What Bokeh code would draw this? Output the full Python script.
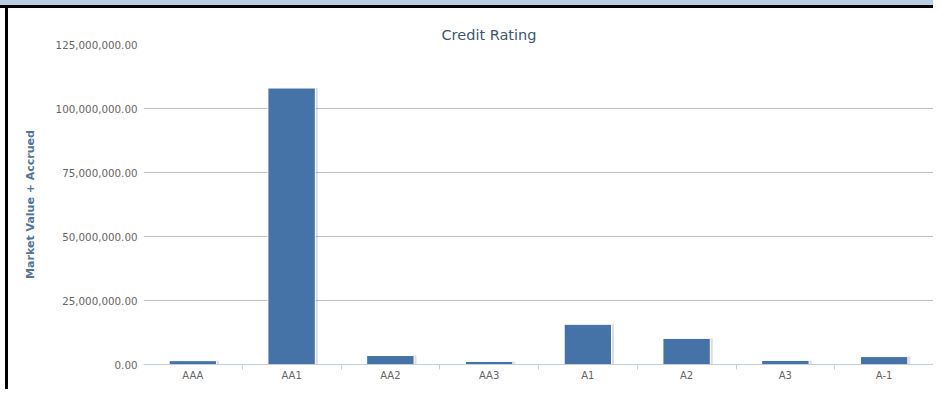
from bokeh.plotting import figure
from bokeh.models import ColumnDataSource, FixedTicker, NumeralTickFormatter, Range1d
from bokeh.transform import dodge
from bokeh.embed import file_html
from bokeh.resources import INLINE

categories = ["AAA", "AA1", "AA2", "AA3", "A1", "A2", "A3", "A-1"]
values = [1.5e6, 108.0e6, 3.5e6, 1.2e6, 15.7e6, 10.2e6, 1.6e6, 3.1e6]
y_ticks = [0, 25e6, 50e6, 75e6, 100e6, 125e6]

n = len(categories)
xpos = [2 * i + 1 for i in range(n)]
bounds = [2 * i for i in range(1, n)]
src = ColumnDataSource(dict(x=xpos, top=values, cat=categories))

p = figure(frame_width=790, frame_height=320, min_border_left=143, min_border_right=0,
           min_border_top=44, min_border_bottom=25,
           x_range=Range1d(0, 2 * n), y_range=Range1d(0, 125e6),
           output_backend="svg", toolbar_location=None,
           background_fill_color="white", border_fill_alpha=0)
p.outline_line_color = None
p.styles = {
    "background": "linear-gradient(to bottom, #B8CCE4 0px, #B8CCE4 5px, black 5px, black 8px, "
                  "transparent 8px), linear-gradient(to right, white 0px, white 5px, black 5px, "
                  "black 8px, white 8px)"
}

p.title.text = "Credit Rating"
p.title.align = "left"
p.title.offset = 298
p.title.standoff = 4
p.title.text_font = "DejaVu Sans"
p.title.text_font_size = "14.5px"
p.title.text_font_style = "normal"
p.title.text_color = "#3E576F"

# shadow
p.vbar(x=dodge("x", 0.05), top="top", width=0.96, bottom=0, source=src,
       fill_color="black", fill_alpha=0.13, line_color=None)
p.vbar(x="x", top="top", width=0.96, bottom=0, source=src,
       fill_color="#4572A7", line_color="white", line_width=1)

# y axis
ya = p.yaxis[0]
ya.ticker = FixedTicker(ticks=y_ticks)
ya.formatter = NumeralTickFormatter(format="0,0.00")
ya.axis_line_color = None
ya.major_tick_line_color = None
ya.minor_tick_line_color = None
ya.major_label_text_font = "DejaVu Sans"
ya.major_label_text_font_size = "10.3px"
ya.major_label_text_color = "#666666"
ya.major_label_standoff = 0
ya.axis_label = "Market Value + Accrued"
ya.axis_label_text_font = "DejaVu Sans"
ya.axis_label_text_font_size = "11px"
ya.axis_label_text_font_style = "bold"
ya.axis_label_text_color = "#4D759E"
ya.axis_label_standoff = 16

p.ygrid.ticker = FixedTicker(ticks=y_ticks)
p.ygrid.grid_line_color = "#C0C0C0"
p.xgrid.grid_line_color = None

# x axis
xa = p.xaxis[0]
xa.ticker = FixedTicker(ticks=xpos, minor_ticks=bounds)
xa.major_label_overrides = {xv: c for xv, c in zip(xpos, categories)}
xa.axis_line_color = "#C0D0E0"
xa.major_tick_line_color = None
xa.major_tick_out = 0
xa.minor_tick_line_color = "#C0D0E0"
xa.minor_tick_out = 5
xa.minor_tick_in = 0
xa.major_label_text_font = "DejaVu Sans"
xa.major_label_text_font_size = "10px"
xa.major_label_text_color = "#666666"
xa.major_label_standoff = 0

open("out.html", "w").write(file_html(p, INLINE))
